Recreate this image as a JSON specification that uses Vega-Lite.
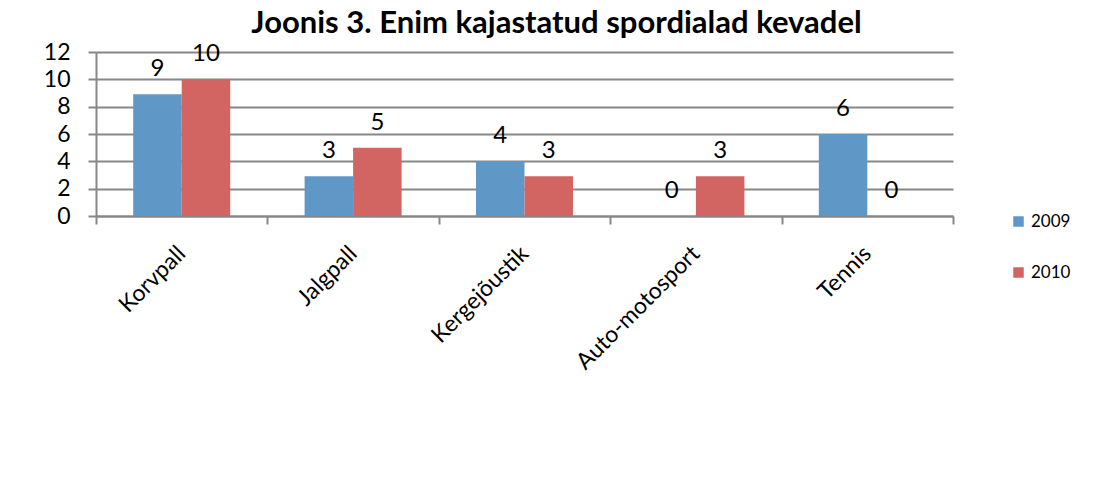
{
  "$schema": "https://vega.github.io/schema/vega-lite/v6.json",
  "width": 857,
  "height": 164,
  "autosize": "none",
  "padding": {"left": 96, "top": 52, "right": 143, "bottom": 268},
  "background": "white",
  "title": {
    "text": "Joonis 3. Enim kajastatud spordialad kevadel",
    "font": "Lato",
    "fontSize": 31,
    "fontWeight": "bold",
    "color": "black",
    "anchor": "middle",
    "frame": "group",
    "baseline": "bottom",
    "offset": 4,
    "dx": 32,
    "dy": 34
  },
  "config": {
    "view": {"stroke": null},
    "font": "Lato"
  },
  "data": {
    "values": [
      {"sport": "Korvpall", "year": "2009", "value": 8.9},
      {"sport": "Korvpall", "year": "2010", "value": 10},
      {"sport": "Jalgpall", "year": "2009", "value": 2.9},
      {"sport": "Jalgpall", "year": "2010", "value": 5},
      {"sport": "Kergejõustik", "year": "2009", "value": 4},
      {"sport": "Kergejõustik", "year": "2010", "value": 2.9},
      {"sport": "Auto-motosport", "year": "2009", "value": 0},
      {"sport": "Auto-motosport", "year": "2010", "value": 2.9},
      {"sport": "Tennis", "year": "2009", "value": 6},
      {"sport": "Tennis", "year": "2010", "value": 0}
    ]
  },
  "encoding": {
    "x": {
      "field": "sport",
      "type": "nominal",
      "sort": null,
      "scale": {"paddingInner": 0, "paddingOuter": 0},
      "axis": {
        "title": null,
        "labelAngle": -45,
        "labelAlign": "right",
        "labelBaseline": "top",
        "labelFont": "Lato",
        "labelFontSize": 23,
        "labelColor": "black",
        "labelPadding": 18,
        "labelOffset": -8,
        "tickBand": "extent",
        "tickSize": 8,
        "tickWidth": 2,
        "tickColor": "#878787",
        "domainColor": "#878787",
        "domainWidth": 2,
        "grid": false
      }
    },
    "xOffset": {
      "field": "year",
      "type": "nominal",
      "scale": {"paddingInner": 0, "paddingOuter": 0.767}
    },
    "y": {
      "field": "value",
      "type": "quantitative",
      "scale": {"domain": [0, 12], "nice": false},
      "axis": {
        "title": null,
        "values": [0, 2, 4, 6, 8, 10, 12],
        "labelFont": "Lato",
        "labelFontSize": 23,
        "labelColor": "black",
        "labelPadding": 18,
        "tickSize": 8,
        "tickWidth": 2,
        "tickColor": "#878787",
        "domainColor": "#878787",
        "domainWidth": 2,
        "grid": true,
        "gridColor": "#878787",
        "gridWidth": 2
      }
    }
  },
  "layer": [
    {
      "mark": {"type": "bar"},
      "encoding": {
        "color": {
          "field": "year",
          "type": "nominal",
          "scale": {"domain": ["2009", "2010"], "range": ["#5F97C7", "#D26562"]},
          "legend": {
            "title": null,
            "orient": "none",
            "legendX": 914,
            "legendY": 161,
            "symbolType": "square",
            "symbolSize": 110,
            "symbolStrokeWidth": 0,
            "labelFont": "Lato",
            "labelFontSize": 17,
            "labelColor": "black",
            "rowPadding": 33,
            "labelOffset": 4
          }
        }
      }
    },
    {
      "mark": {"type": "text", "font": "Lato", "fontSize": 24, "color": "black", "baseline": "middle", "dy": -25},
      "encoding": {
        "text": {"field": "value", "type": "quantitative", "format": ".0f"}
      }
    }
  ]
}
